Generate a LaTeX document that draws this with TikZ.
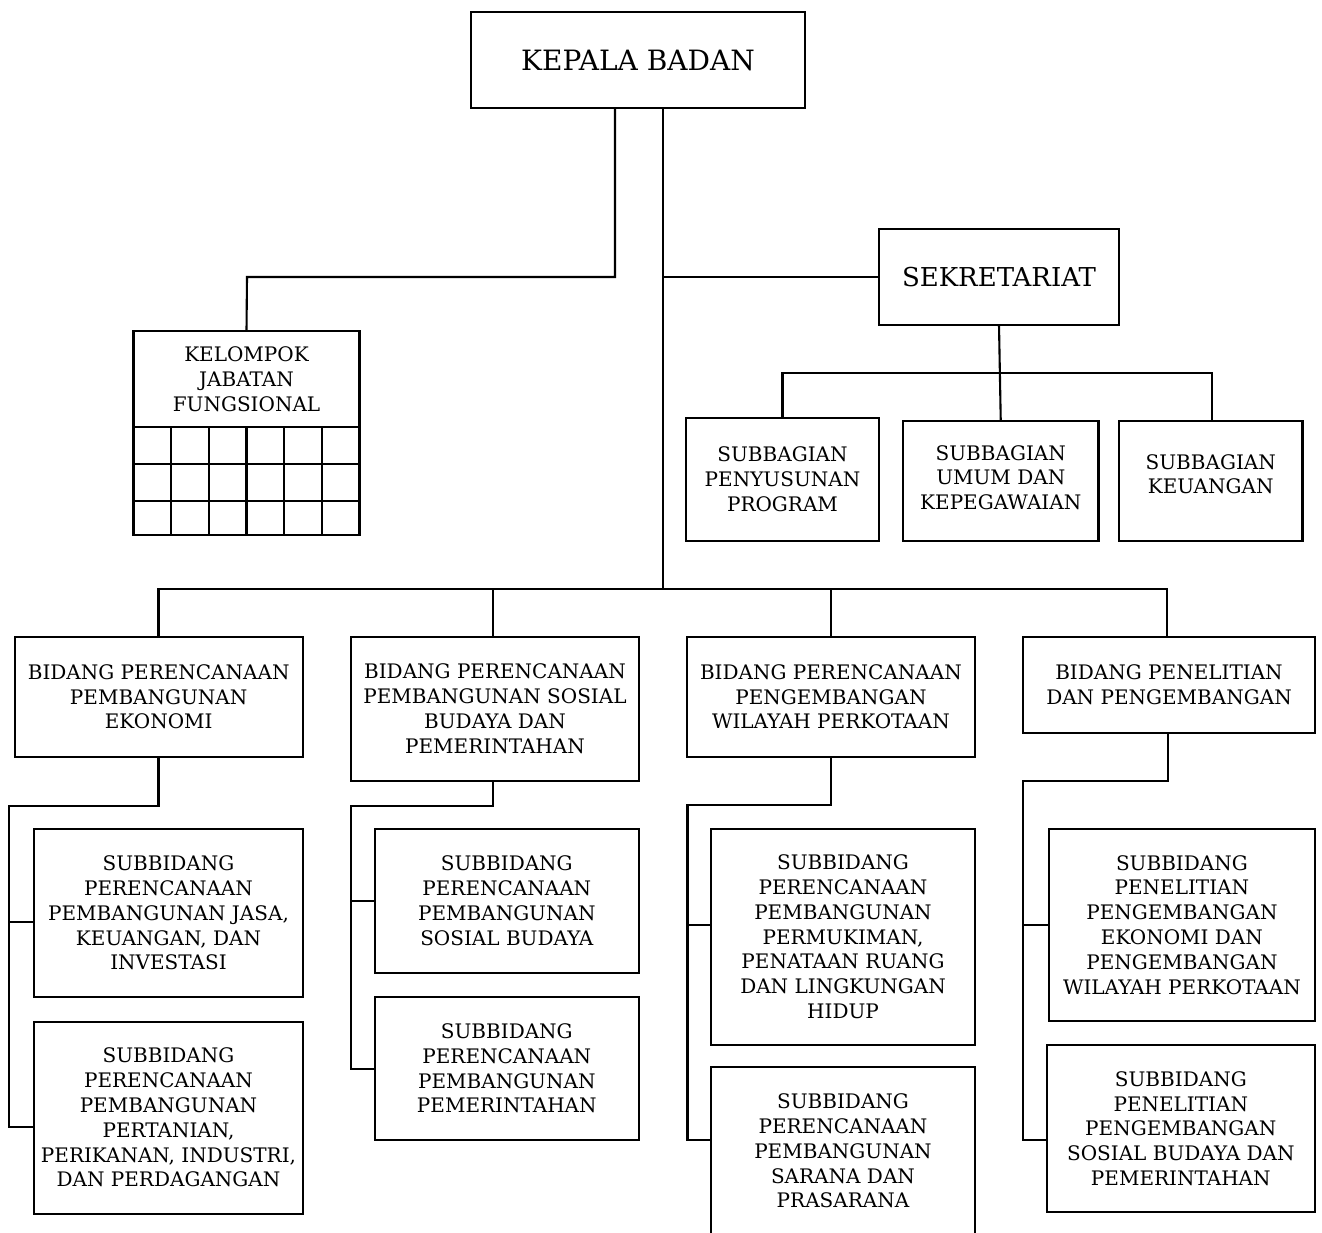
\documentclass[tikz,border=0pt]{standalone}
\usepackage{fontspec}
\setmainfont{DejaVu Serif}
\begin{document}
\begin{tikzpicture}[x=1pt,y=-1pt,
  box/.style={draw, line width=2.1pt, inner sep=0pt, outer sep=0pt, align=center,
     font=\fontsize{20}{24.8}\selectfont},
  bigbox/.style={box, font=\fontsize{28}{32}\selectfont},
  medbox/.style={box, font=\fontsize{26}{32}\selectfont},
  link/.style={line width=2.1pt}]
\useasboundingbox (0,0) rectangle (1322,1232);
\clip (0,0) rectangle (1322,1232);
% top
\node[bigbox, minimum width=334pt, minimum height=96pt] (kb) at (638,60) {KEPALA BADAN};
\node[medbox, minimum width=240pt, minimum height=96pt] (sek) at (999,277) {SEKRETARIAT};
% kelompok jabatan fungsional
\node[box, minimum width=226pt, minimum height=96pt] (kjf) at (246.5,379) {KELOMPOK\\JABATAN\\FUNGSIONAL};
\draw[link] (133.5,427) rectangle (359.5,535);
\foreach \i in {1,...,5} \draw[link] (133.5+\i*37.667,427) -- (133.5+\i*37.667,535);
\draw[link] (133.5,464) -- (359.5,464);
\draw[link] (133.5,501) -- (359.5,501);
% subbagian
\node[box, minimum width=193pt, minimum height=123pt] (sp) at (782.5,479.5) {SUBBAGIAN\\PENYUSUNAN\\PROGRAM};
\node[box, minimum width=195.5pt, minimum height=120pt, text depth=7pt] (su) at (1000.75,481) {SUBBAGIAN\\UMUM DAN\\KEPEGAWAIAN};
\node[box, minimum width=183.5pt, minimum height=120pt, text depth=14pt] (sk) at (1210.75,481) {SUBBAGIAN\\KEUANGAN};
% bidang
\node[box, minimum width=288pt, minimum height=119.7pt] (b1) at (158.7,696.8) {BIDANG PERENCANAAN\\PEMBANGUNAN\\EKONOMI};
\node[box, minimum width=288pt, minimum height=143.7pt] (b2) at (495,708.9) {BIDANG PERENCANAAN\\PEMBANGUNAN SOSIAL\\BUDAYA DAN\\PEMERINTAHAN};
\node[box, minimum width=288.3pt, minimum height=119.7pt] (b3) at (830.9,696.8) {BIDANG PERENCANAAN\\PENGEMBANGAN\\WILAYAH PERKOTAAN};
\node[box, minimum width=292pt, minimum height=95.7pt] (b4) at (1169,684.9) {BIDANG PENELITIAN\\DAN PENGEMBANGAN};
% subbidang
\node[box, minimum width=268.3pt, minimum height=168pt] (s1a) at (168.5,913) {SUBBIDANG\\PERENCANAAN\\PEMBANGUNAN JASA,\\KEUANGAN, DAN\\INVESTASI};
\node[box, minimum width=268.3pt, minimum height=192pt] (s1b) at (168.5,1117.6) {SUBBIDANG\\PERENCANAAN\\PEMBANGUNAN\\PERTANIAN,\\PERIKANAN, INDUSTRI,\\DAN PERDAGANGAN};
\node[box, minimum width=264.4pt, minimum height=143.8pt] (s2a) at (506.8,900.9) {SUBBIDANG\\PERENCANAAN\\PEMBANGUNAN\\SOSIAL BUDAYA};
\node[box, minimum width=264.4pt, minimum height=143pt] (s2b) at (506.8,1068.5) {SUBBIDANG\\PERENCANAAN\\PEMBANGUNAN\\PEMERINTAHAN};
\node[box, minimum width=264.1pt, minimum height=215.8pt] (s3a) at (843,936.9) {SUBBIDANG\\PERENCANAAN\\PEMBANGUNAN\\PERMUKIMAN,\\PENATAAN RUANG\\DAN LINGKUNGAN\\HIDUP};
\node[box, minimum width=264.1pt, minimum height=168pt] (s3b) at (843,1151) {SUBBIDANG\\PERENCANAAN\\PEMBANGUNAN\\SARANA DAN\\PRASARANA};
\node[box, minimum width=266.2pt, minimum height=191.8pt] (s4a) at (1181.9,924.9) {SUBBIDANG\\PENELITIAN\\PENGEMBANGAN\\EKONOMI DAN\\PENGEMBANGAN\\WILAYAH PERKOTAAN};
\node[box, minimum width=268.4pt, minimum height=167.6pt] (s4b) at (1180.8,1128.6) {SUBBIDANG\\PENELITIAN\\PENGEMBANGAN\\SOSIAL BUDAYA DAN\\PEMERINTAHAN};
% connectors
\coordinate (trunk) at (663,588.7);
\draw[link] (kb.south -| 615,0) |- (247,277) -- (kjf.north);
\draw[link] (kb.south -| 663,0) -- (trunk);
\draw[link] (663,277) -- (sek.west);
\draw[link] (sek.south) -- (su.north);
\draw[link] (sp.north -| 782.5,0) |- (999,373) -| (sk.north -| 1212,0);
\draw[link] (b1.north -| 158.5,0) |- (trunk) -| (b4.north -| 1167,0);
\draw[link] (b2.north -| 493.3,0) -- (493.3,588.7);
\draw[link] (b3.north -| 830.8,0) -- (830.8,588.7);
% bidang 1
\draw[link] (b1.south -| 158.5,0) |- (9,805.6) |- (s1b.west |- 0,1127);
\draw[link] (9,922) -- (s1a.west |- 0,922);
% bidang 2
\draw[link] (b2.south -| 493.3,0) |- (351,805.6) |- (s2b.west |- 0,1068.8);
\draw[link] (351,900.8) -- (s2a.west |- 0,900.8);
% bidang 3
\draw[link] (b3.south -| 830.8,0) |- (687.5,805) |- (s3b.west |- 0,1140);
\draw[link] (687.5,924.8) -- (s3a.west |- 0,924.8);
% bidang 4
\draw[link] (b4.south -| 1168,0) |- (1023,780.7) |- (s4b.west |- 0,1140);
\draw[link] (1023,924.8) -- (s4a.west |- 0,924.8);
\end{tikzpicture}
\end{document}
